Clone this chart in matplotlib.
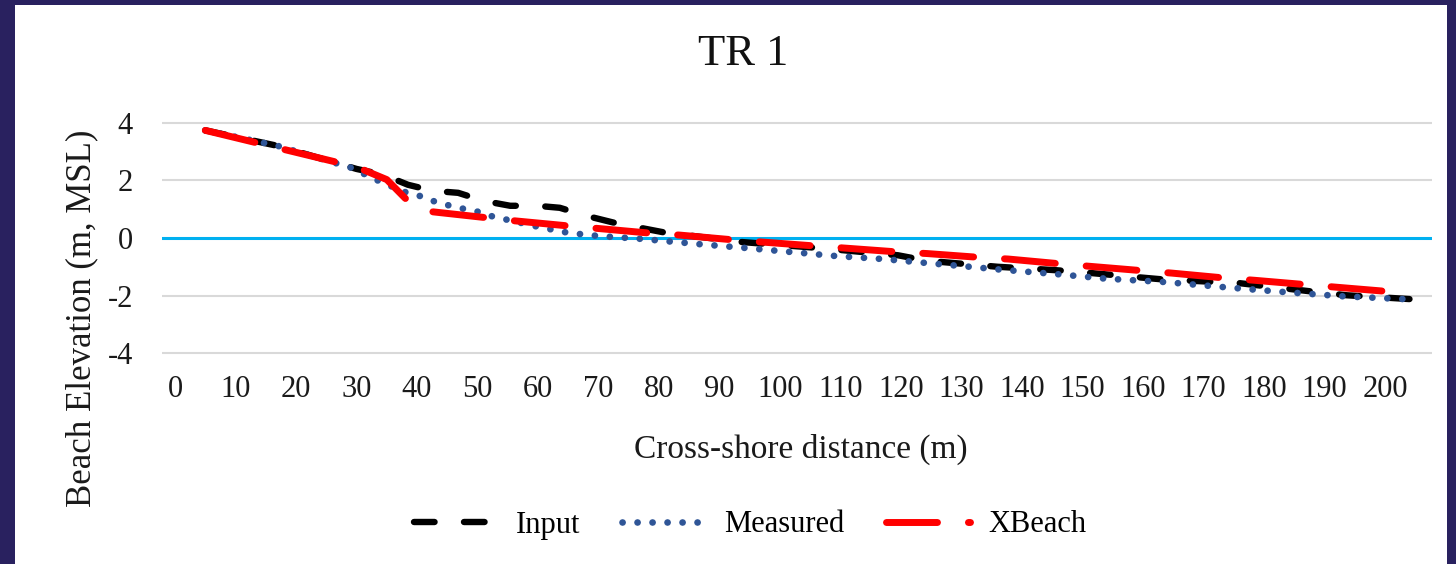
import matplotlib
matplotlib.use('Agg')
import matplotlib.pyplot as plt
from matplotlib.patches import Rectangle

plt.rcParams['font.family'] = 'Liberation Serif'
plt.rcParams['axes.unicode_minus'] = False
plt.rcParams['lines.scale_dashes'] = False

# Input profile (black dashed)
input_x = [5, 17, 30, 34.4, 38.5, 42.6, 46.8, 51, 55.4, 59.8, 63.6, 68, 72.4, 76.5,
           80.7, 93.7, 106.6, 119.5, 124.3, 136, 141, 145.7, 150, 159, 162.8, 176,
           188.8, 193.7, 205.5]
input_y = [3.74, 3.2, 2.4, 2.2, 1.85, 1.64, 1.57, 1.29, 1.12, 1.12, 1.05, 0.77, 0.54, 0.37,
           0.2, -0.14, -0.35, -0.6, -0.79, -1.0, -1.06, -1.12, -1.19, -1.36, -1.43, -1.57,
           -1.88, -1.99, -2.14]

# Measured profile (blue dotted)
measured_x = [5, 17, 29, 34, 38, 41, 43, 45.5, 48, 50.4, 52.6, 55, 60, 65, 70, 77,
              87, 94.5, 102, 109.4, 117, 124.3, 131.4, 136, 146, 153.7, 163.6, 173.5,
              183.5, 193.4, 205]
measured_y = [3.74, 3.2, 2.45, 1.95, 1.6, 1.43, 1.26, 1.12, 1.0, 0.9, 0.74, 0.63, 0.39,
              0.18, 0.07, -0.03, -0.22, -0.35, -0.49, -0.63, -0.73, -0.87, -1.0, -1.09,
              -1.26, -1.41, -1.53, -1.71, -1.88, -2.03, -2.14]

# XBeach result (red long dash)
xbeach_x = [5, 27, 31, 35, 38.8, 42.6, 51.7, 56, 65, 70, 79, 83.5, 92.6, 97, 106, 110.7,
            119.8, 124.3, 133.4, 137.7, 147, 151, 160.7, 164.8, 174, 178.5, 188, 192, 200]
xbeach_y = [3.74, 2.62, 2.38, 2.03, 1.22, 0.91, 0.70, 0.6, 0.42, 0.33, 0.16, 0.1, -0.07,
            -0.14, -0.28, -0.35, -0.49, -0.54, -0.68, -0.73, -0.91, -0.98, -1.15, -1.22,
            -1.40, -1.47, -1.64, -1.71, -1.85]

x_ticks = list(range(0, 201, 10))
y_ticks = [-4, -2, 0, 2, 4]

fig = plt.figure(figsize=(14.56, 5.64), dpi=100, facecolor='#29215F')
fig.patches.append(Rectangle((15 / 1456, 0), 1432 / 1456, 559 / 564,
                             transform=fig.transFigure, facecolor='white',
                             edgecolor='none', zorder=-5))

ax = fig.add_axes([0.1113, 0.3688, 0.8723, 0.4184])
ax.set_facecolor('none')
ax.set_zorder(2)

ax.axhline(0, color='#00B0F0', lw=2.2, zorder=1)
ax.plot(input_x, input_y, color='black', lw=4.6, linestyle=(0, (14.8, 21.2)),
        dash_capstyle='round', label='Input', zorder=2)
ax.plot(measured_x, measured_y, color='#2F5597', lw=4.8, linestyle=(0, (0.1, 10.7)),
        dash_capstyle='round', label='Measured', zorder=3)
ax.plot(xbeach_x, xbeach_y, color='#FF0000', lw=5.0, linestyle=(0, (36.7, 22.3)),
        dash_capstyle='round', label='XBeach', zorder=4)

ax.set_xlim(-2.15, 207.8)
ax.set_ylim(-4.1, 4.1)
ax.set_xticks(x_ticks)
ax.set_yticks(y_ticks)
ax.set_yticklabels([str(v) for v in y_ticks])
ax.tick_params(axis='both', length=0, labelsize=22, colors='#1a1a1a')
ax.tick_params(axis='y', pad=21)
ax.tick_params(axis='x', pad=14)
for s in ax.spines.values():
    s.set_visible(False)
for v in [-4, -2, 2, 4]:
    ax.axhline(v, color='#D9D9D9', lw=1.5, zorder=0)

fig.text(743 / 1456, 1 - 54 / 564, 'TR 1', fontsize=32, ha='center', va='center', color='#111111')
fig.text(801 / 1456, 1 - 449 / 564, 'Cross-shore distance (m)', fontsize=24,
         ha='center', va='center', color='#1a1a1a')
fig.text(82 / 1456, 1 - 318 / 564, 'Beach Elevation (m, MSL)', fontsize=25, rotation=90,
         ha='center', va='center', color='#1a1a1a')

fig.legend(loc='center', bbox_to_anchor=(750 / 1456, 1 - 525 / 564), ncol=3, frameon=False,
           fontsize=22, handlelength=2.75, handletextpad=0.6, columnspacing=1.35)

fig.savefig('out.png', dpi=100, facecolor=fig.get_facecolor())
